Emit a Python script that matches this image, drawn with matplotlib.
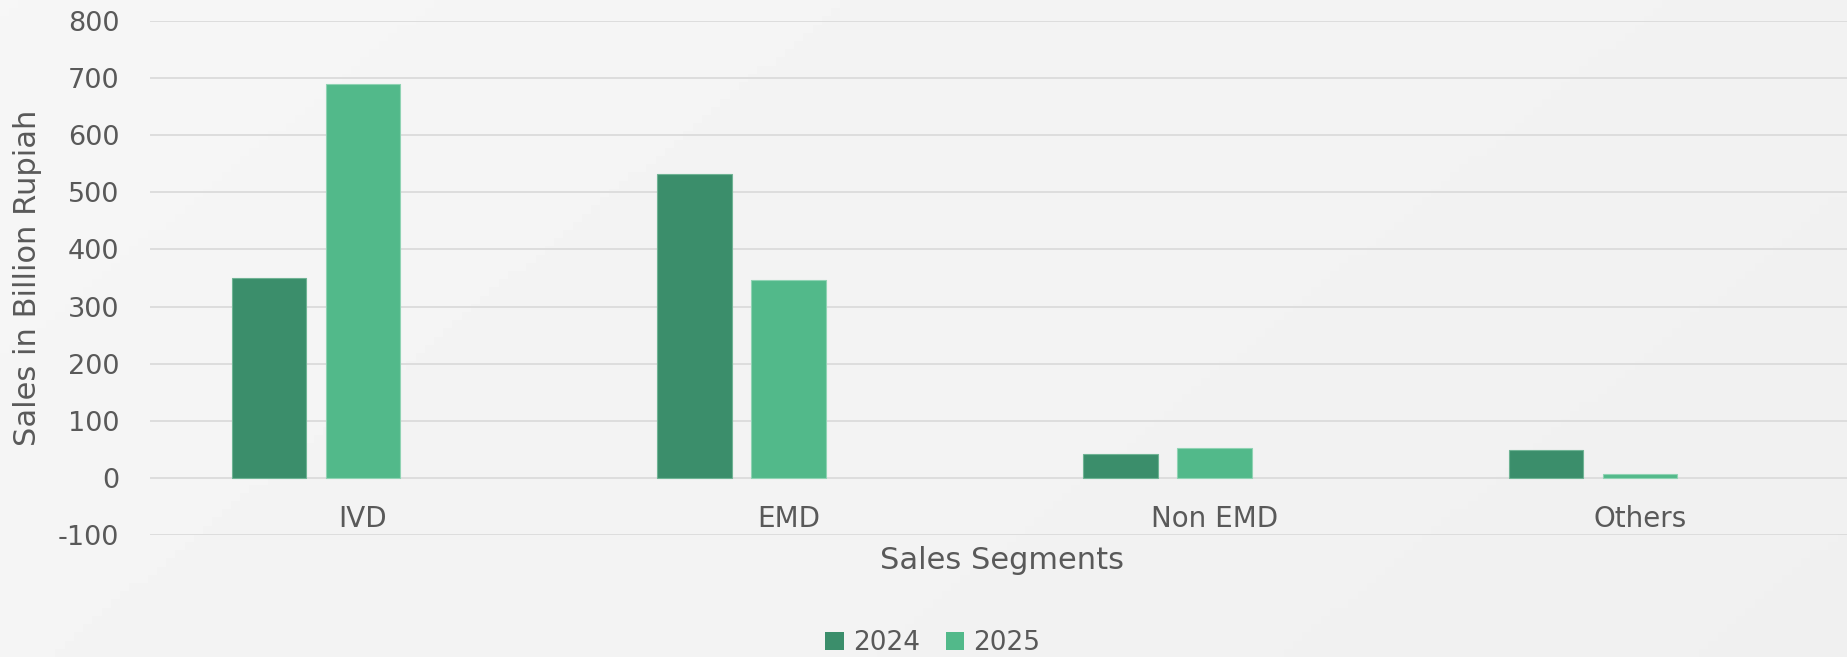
import numpy as np
import matplotlib.pyplot as plt
from matplotlib.patches import Patch

# data
segments = ['IVD', 'EMD', 'Non EMD', 'Others']
sales_2024 = [350, 533, 41, 48]
sales_2025 = [691, 346, 52, 6]
yticks = [-100, 0, 100, 200, 300, 400, 500, 600, 700, 800]

c2024 = '#3B8E6B'
c2025 = '#52B98A'
txt = '#595959'
bg = '#f0f0f0'

plt.rcParams['font.family'] = ['DejaVu Sans']
plt.rcParams['axes.unicode_minus'] = False

W, H = 1847, 657
fig = plt.figure(figsize=(W / 100, H / 100), dpi=100, facecolor=bg)

# soft light-grey background gradient (lighter at top left)
bgax = fig.add_axes([0, 0, 1, 1], zorder=-1)
gx, gy = np.meshgrid(np.linspace(0, 1, 200), np.linspace(0, 1, 80))
grad = 0.965 - 0.025 * (0.7 * gx + 0.3 * gy)
bgax.imshow(grad, cmap='gray', vmin=0, vmax=1, aspect='auto', extent=[0, 1, 0, 1])
bgax.axis('off')

# axes in pixel units: left 150, right 1853, top 21.4, bottom 534.6
ax = fig.add_axes([150 / W, 1 - 534.6 / H, 1703 / W, 513.2 / H])
ax.set_facecolor('none')

x = np.arange(len(segments))
off = 0.2208
bw = 0.175
ax.bar(x - off, sales_2024, bw, color=c2024, edgecolor='#6fb394', linewidth=0.8, zorder=3)
ax.bar(x, sales_2025, bw, color=c2025, edgecolor='#8fd3b3', linewidth=0.8, zorder=3)

ax.set_xlim(-0.5, len(segments) - 0.5)
ax.set_ylim(-100, 800)
ax.set_yticks(yticks)
ax.grid(axis='y', color='#d9d9d9', linewidth=1.2, zorder=0)
ax.set_axisbelow(True)
for s in ['top', 'right', 'left']:
    ax.spines[s].set_visible(False)
ax.spines['bottom'].set_position(('data', 0))
ax.spines['bottom'].set_visible(False)

ax.set_xticks(x)
ax.set_xticklabels(segments)
ax.tick_params(axis='x', length=0, pad=20, labelsize=20, labelcolor=txt)
ax.tick_params(axis='y', length=0, pad=22, labelsize=19.5, labelcolor=txt)

ax.set_ylabel('Sales in Billion Rupiah', fontsize=22, color=txt)
ax.yaxis.set_label_coords(-0.0634, 0.5)
ax.set_xlabel('Sales Segments', fontsize=22, color=txt)
ax.xaxis.label.set_va('center')
ax.xaxis.set_label_coords(0.5, -0.05)

handles = [Patch(facecolor=c2024, label='2024'), Patch(facecolor=c2025, label='2025')]
fig.legend(handles=handles, loc='center', bbox_to_anchor=(933 / W, 1 - 643 / H),
           ncol=2, frameon=False, fontsize=19, labelcolor=txt,
           handlelength=0.7, handleheight=0.7, handletextpad=0.36, columnspacing=0.95)

fig.savefig('out.png', dpi=100, facecolor=bg)
